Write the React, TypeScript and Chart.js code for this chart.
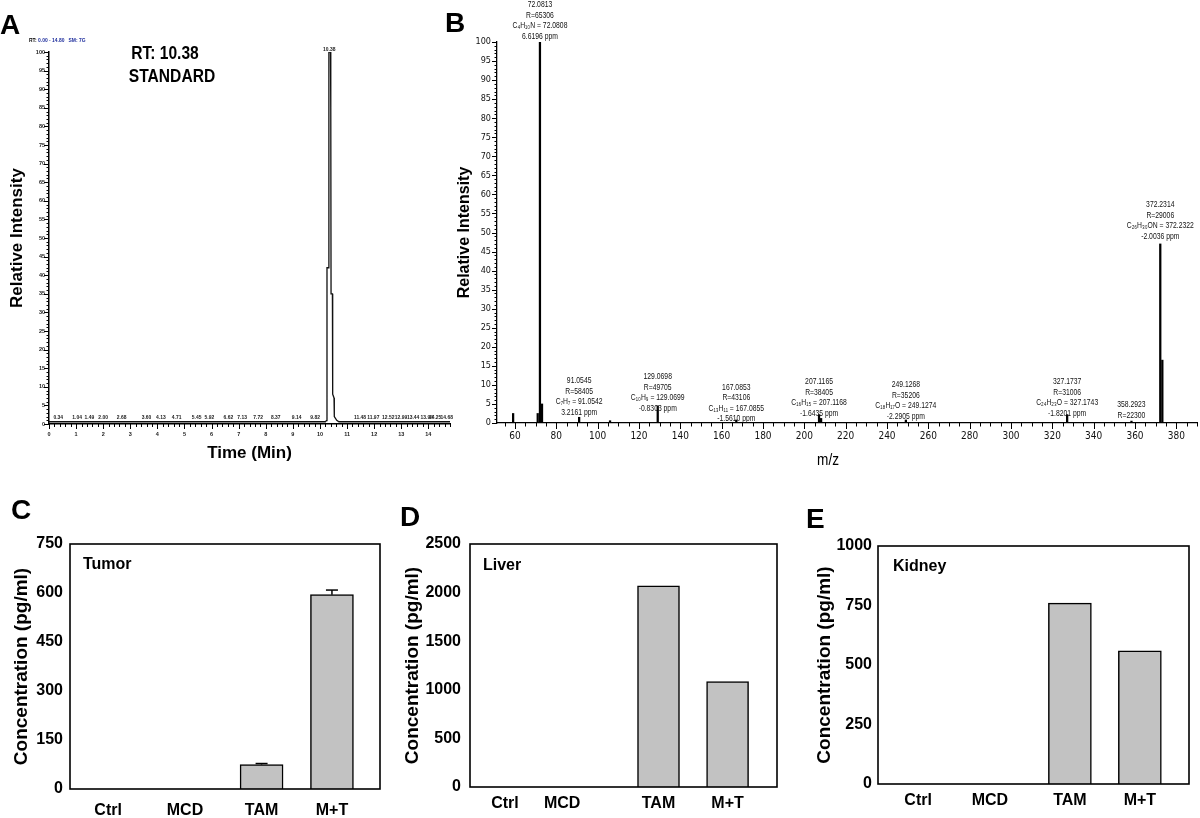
import React, { useEffect, useRef } from "react";
import { Chart, registerables } from "chart.js";

Chart.register(...registerables);

// ================= DATA =================
// Panel A – chromatogram (time in min, relative intensity %)
const chromTime = [0, 10.2, 10.24, 10.26, 10.32, 10.33, 10.39, 10.4, 10.41, 10.46, 10.47, 10.52, 10.53, 10.62, 10.7, 14.8];
const chromIntensity = [0.6, 0.6, 0.9, 42, 42, 100, 100, 85, 35, 35, 8, 7, 2, 1, 0.6, 0.6];
const noiseLabelTimes = [0.34, 1.04, 1.49, 2.0, 2.68, 3.6, 4.13, 4.71, 5.45, 5.92, 6.62, 7.13, 7.72, 8.37, 9.14, 9.82, 11.48, 11.97, 12.52, 12.99, 13.44, 13.94, 14.25, 14.68];
const peakRT = 10.38;
const chromXTicks = [0, 1, 2, 3, 4, 5, 6, 7, 8, 9, 10, 11, 12, 13, 14];
const chromYTicks = [0, 5, 10, 15, 20, 25, 30, 35, 40, 45, 50, 55, 60, 65, 70, 75, 80, 85, 90, 95, 100];

// Panel B – mass spectrum
const specMz = [59.1, 71.0, 72.08, 73.08, 91.05, 106.0, 129.07, 167.09, 207.12, 208.12, 249.13, 327.17, 358.29, 372.23, 373.23];
const specIntensity = [2.5, 2.5, 100, 5, 1.5, 0.6, 4.5, 0.8, 2.2, 1.2, 0.8, 2.2, 0.5, 47, 16.5];
const annotMz = [72.0813, 91.0545, 129.0698, 167.0853, 207.1165, 249.1268, 327.1737, 358.2923, 372.2314];
const annotLevel = [109.7, 11.0, 12.1, 9.4, 10.8, 10.0, 10.8, 4.7, 57.2];
const annotText = [
  ["72.0813", "R=65306", "C\u2084H\u2081\u2080N = 72.0808", "6.6196 ppm"],
  ["91.0545", "R=58405", "C\u2087H\u2087 = 91.0542", "3.2161 ppm"],
  ["129.0698", "R=49705", "C\u2081\u2080H\u2089 = 129.0699", "-0.8303 ppm"],
  ["167.0853", "R=43106", "C\u2081\u2083H\u2081\u2081 = 167.0855", "-1.5610 ppm"],
  ["207.1165", "R=38405", "C\u2081\u2086H\u2081\u2085 = 207.1168", "-1.6435 ppm"],
  ["249.1268", "R=35206", "C\u2081\u2088H\u2081\u2087O = 249.1274", "-2.2905 ppm"],
  ["327.1737", "R=31006", "C\u2082\u2084H\u2082\u2083O = 327.1743", "-1.8201 ppm"],
  ["358.2923", "R=22300"],
  ["372.2314", "R=29006", "C\u2082\u2086H\u2083\u2080ON = 372.2322", "-2.0036 ppm"],
];
const specXTicks = [60, 80, 100, 120, 140, 160, 180, 200, 220, 240, 260, 280, 300, 320, 340, 360, 380];
const specYTicks = [0, 5, 10, 15, 20, 25, 30, 35, 40, 45, 50, 55, 60, 65, 70, 75, 80, 85, 90, 95, 100];

// Panels C–E – concentrations (pg/ml)
const groups = ["Ctrl", "MCD", "TAM", "M+T"];
const tumorValues = [0, 0, 75, 595];
const tumorErrors = [0, 0, 3, 14];
const liverValues = [0, 0, 2070, 1085];
const kidneyValues = [0, 0, 760, 560];
const tumorTicks = [0, 150, 300, 450, 600, 750];
const liverTicks = [0, 500, 1000, 1500, 2000, 2500];
const kidneyTicks = [0, 250, 500, 750, 1000];

// ================= STYLE HELPERS =================
const SANS = "'Liberation Sans', Arial, Helvetica, sans-serif";
const NARROW = "'Liberation Sans Narrow', 'Arial Narrow', 'DejaVu Sans Condensed', 'Liberation Sans', sans-serif";

function scaledText(ctx: CanvasRenderingContext2D, s: string, x: number, y: number, font: string, sx = 1, align: CanvasTextAlign = "center", color = "#000") {
  ctx.save();
  ctx.font = font;
  ctx.fillStyle = color;
  ctx.textAlign = align;
  ctx.textBaseline = "middle";
  ctx.translate(x, y);
  ctx.scale(sx, 1);
  ctx.fillText(s, 0, 0);
  ctx.restore();
}

function seg(ctx: CanvasRenderingContext2D, x1: number, y1: number, x2: number, y2: number) {
  ctx.beginPath();
  ctx.moveTo(x1, y1);
  ctx.lineTo(x2, y2);
  ctx.stroke();
}

const plain = (v: any) => String(v);

// ================= PANEL A =================
function makeChromConfig(): any {
  const deco = {
    id: "chromDeco",
    afterDraw(chart: any) {
      const { ctx, chartArea: a, scales } = chart;
      const x = scales.x, y = scales.y;
      ctx.save();
      ctx.strokeStyle = "#000";
      ctx.lineWidth = 1;
      for (let i = 0; i <= 74; i++) {
        const px = Math.round(x.getPixelForValue(i * 0.2)) + 0.5;
        seg(ctx, px, a.bottom, px, a.bottom + (i % 5 === 0 ? 5 : 3));
      }
      for (let v = 0; v <= 100; v++) {
        const py = Math.round(y.getPixelForValue(v)) + 0.5;
        seg(ctx, a.left - (v % 5 === 0 ? 5 : 2.5), py, a.left, py);
      }
      ctx.restore();
      noiseLabelTimes.forEach((t) => {
        scaledText(ctx, t.toFixed(2), x.getPixelForValue(t), y.getPixelForValue(0.6) - 4, `bold 5.5px ${SANS}`, 0.9, "center", "#222");
      });
      scaledText(ctx, peakRT.toFixed(2), x.getPixelForValue(peakRT) - 1, y.getPixelForValue(100) - 3, `bold 5.5px ${SANS}`, 0.9, "center", "#222");
      scaledText(ctx, "RT: " + peakRT.toFixed(2), 165, 54, `bold 19px ${SANS}`, 0.82);
      scaledText(ctx, "STANDARD", 172, 77, `bold 19px ${SANS}`, 0.82);
      scaledText(ctx, "RT:", 29, 40.5, `bold 5.5px ${SANS}`, 0.9, "left", "#000");
      scaledText(ctx, "0.00 - 14.80   SM: 7G", 38, 40.5, `bold 5.5px ${SANS}`, 0.9, "left", "#1c2c9c");
    },
  };
  return {
    type: "line",
    data: {
      datasets: [
        {
          data: chromTime.map((t, i) => ({ x: t, y: chromIntensity[i] })),
          borderColor: "#111",
          borderWidth: 1.3,
          pointRadius: 0,
          tension: 0,
          fill: false,
        },
      ],
    },
    options: {
      animation: false,
      responsive: false,
      events: [],
      layout: { padding: { left: 0, right: 5, top: 52, bottom: 0 } },
      plugins: { legend: { display: false }, tooltip: { enabled: false } },
      scales: {
        x: {
          type: "linear",
          min: 0,
          max: 14.8,
          afterFit: (s: any) => { s.height = 46; },
          afterBuildTicks: (s: any) => { s.ticks = chromXTicks.map((v) => ({ value: v })); },
          grid: { display: false, drawTicks: false },
          border: { display: true, color: "#000", width: 1.5 },
          ticks: { autoSkip: false, maxRotation: 0, padding: 7, color: "#222", font: { family: SANS, size: 5.5, weight: "bold" }, callback: plain },
          title: { display: true, text: "Time (Min)", color: "#000", font: { family: SANS, size: 17, weight: "bold" }, padding: { top: 0, bottom: 6 } },
        },
        y: {
          min: 0,
          max: 100,
          afterFit: (s: any) => { s.width = 49; },
          afterBuildTicks: (s: any) => { s.ticks = chromYTicks.map((v) => ({ value: v })); },
          grid: { display: false, drawTicks: false },
          border: { display: true, color: "#000", width: 1.5 },
          ticks: { autoSkip: false, padding: 4, color: "#222", font: { family: SANS, size: 5.5, weight: "bold" }, callback: plain },
          title: { display: true, text: "Relative Intensity", color: "#000", font: { family: SANS, size: 17, weight: "bold" }, padding: { top: 7, bottom: 0 } },
        },
      },
    },
    plugins: [deco],
  };
}

// ================= PANEL B =================
function makeSpecConfig(): any {
  const deco = {
    id: "specDeco",
    afterDraw(chart: any) {
      const { ctx, chartArea: a, scales } = chart;
      const x = scales.x, y = scales.y;
      ctx.save();
      ctx.strokeStyle = "#000";
      ctx.lineWidth = 1;
      for (let v = 55; v <= 390; v += 5) {
        const px = Math.round(x.getPixelForValue(v)) + 0.5;
        seg(ctx, px, a.bottom, px, a.bottom + (v % 20 === 0 ? 6 : 3.5));
      }
      for (let v = 0; v <= 100; v++) {
        const py = Math.round(y.getPixelForValue(v)) + 0.5;
        seg(ctx, a.left - (v % 5 === 0 ? 5 : 2.5), py, a.left, py);
      }
      ctx.restore();
      annotMz.forEach((mz, i) => {
        const px = x.getPixelForValue(mz);
        const py = y.getPixelForValue(annotLevel[i]);
        annotText[i].forEach((s, j) => {
          scaledText(ctx, s, px, py + j * 10.5, `8.5px ${SANS}`, 0.8, "center", "#111");
        });
      });
      scaledText(ctx, "m/z", a.left + 331, 460, `17px ${SANS}`, 0.8, "center", "#000");
    },
  };
  return {
    type: "bar",
    data: {
      datasets: [
        {
          data: specMz.map((m, i) => ({ x: m, y: specIntensity[i] })),
          backgroundColor: "#000",
          borderWidth: 0,
          barThickness: 1.6,
        },
      ],
    },
    options: {
      animation: false,
      responsive: false,
      events: [],
      layout: { padding: { left: 0, right: 3, top: 42, bottom: 0 } },
      plugins: { legend: { display: false }, tooltip: { enabled: false } },
      scales: {
        x: {
          type: "linear",
          offset: false,
          min: 51.3,
          max: 390,
          afterFit: (s: any) => { s.height = 47; },
          afterBuildTicks: (s: any) => { s.ticks = specXTicks.map((v) => ({ value: v })); },
          grid: { display: false, drawTicks: false, offset: false },
          border: { display: true, color: "#000", width: 1.3 },
          ticks: { autoSkip: false, maxRotation: 0, padding: 7, color: "#111", font: { family: NARROW, size: 10 }, callback: plain },
        },
        y: {
          min: 0,
          max: 100,
          afterFit: (s: any) => { s.width = 42; },
          afterBuildTicks: (s: any) => { s.ticks = specYTicks.map((v) => ({ value: v })); },
          grid: { display: false, drawTicks: false },
          border: { display: true, color: "#000", width: 1.3 },
          ticks: { autoSkip: false, padding: 6, color: "#111", font: { family: NARROW, size: 9 }, callback: plain },
          title: { display: true, text: "Relative Intensity", color: "#000", font: { family: SANS, size: 16, weight: "bold" }, padding: { top: 0, bottom: 0 } },
        },
      },
    },
    plugins: [deco],
  };
}

// ================= PANELS C–E =================
type BarPanel = {
  values: number[];
  errors?: number[];
  ticks: number[];
  max: number;
  catPos: number[];
  barWidth: number;
  tissue: string;
  padRight: number;
  top: number;
  yWidth: number;
  xHeight: number;
  yPad: number;
  xPad: number;
  titlePad: number;
  labelDx: number;
  labelDy: number;
};

function makeBarConfig(p: BarPanel): any {
  const deco = {
    id: "barDeco",
    afterDatasetsDraw(chart: any) {
      const { ctx, chartArea: a, scales } = chart;
      const x = scales.x, y = scales.y;
      ctx.save();
      if (p.errors) {
        ctx.strokeStyle = "#000";
        ctx.lineWidth = 1.5;
        p.errors.forEach((e, i) => {
          if (!e) return;
          const px = x.getPixelForValue(p.catPos[i]);
          const y0 = y.getPixelForValue(p.values[i]);
          const y1 = y.getPixelForValue(p.values[i] + e);
          seg(ctx, px, y0, px, y1);
          seg(ctx, px - 6, y1, px + 6, y1);
        });
      }
      ctx.strokeStyle = "#000";
      ctx.lineWidth = 1.6;
      ctx.strokeRect(a.left, a.top, a.right - a.left, a.bottom - a.top);
      ctx.restore();
      scaledText(ctx, p.tissue, a.left + p.labelDx, a.top + p.labelDy, `bold 16px ${SANS}`, 1, "left", "#000");
    },
  };
  return {
    type: "bar",
    data: {
      datasets: [
        {
          data: p.values.map((v, i) => ({ x: p.catPos[i], y: v })),
          backgroundColor: "#c2c2c2",
          borderColor: "#000",
          borderWidth: 1.5,
          barThickness: p.barWidth,
        },
      ],
    },
    options: {
      animation: false,
      responsive: false,
      events: [],
      layout: { padding: { left: 0, right: p.padRight, top: p.top, bottom: 0 } },
      plugins: { legend: { display: false }, tooltip: { enabled: false } },
      scales: {
        x: {
          type: "linear",
          offset: false,
          min: 0,
          max: 100,
          afterFit: (s: any) => { s.height = p.xHeight; },
          afterBuildTicks: (s: any) => { s.ticks = p.catPos.map((v) => ({ value: v })); },
          grid: { display: false, drawTicks: false, offset: false },
          border: { display: false },
          ticks: {
            autoSkip: false,
            maxRotation: 0,
            padding: p.xPad,
            color: "#000",
            font: { family: SANS, size: 16, weight: "bold" },
            callback: (_v: any, i: number) => groups[i],
          },
        },
        y: {
          min: 0,
          max: p.max,
          afterFit: (s: any) => { s.width = p.yWidth; },
          afterBuildTicks: (s: any) => { s.ticks = p.ticks.map((v) => ({ value: v })); },
          grid: { display: false, drawTicks: false },
          border: { display: false },
          ticks: { autoSkip: false, padding: p.yPad, color: "#000", font: { family: SANS, size: 16, weight: "bold" }, callback: plain },
          title: {
            display: true,
            text: "Concentration (pg/ml)",
            color: "#000",
            font: { family: SANS, size: 19, weight: "bold" },
            padding: { top: p.titlePad, bottom: 0 },
          },
        },
      },
    },
    plugins: [deco],
  };
}

// ================= COMPONENTS =================
function ChartBox({ left, top, width, height, make }: { left: number; top: number; width: number; height: number; make: () => any }) {
  const ref = useRef<HTMLCanvasElement>(null);
  useEffect(() => {
    const chart = new Chart(ref.current as HTMLCanvasElement, make());
    return () => chart.destroy();
  }, []);
  return (
    <div style={{ position: "absolute", left, top, width, height }}>
      <canvas ref={ref} width={width} height={height} style={{ width, height, display: "block" }} />
    </div>
  );
}

function Letter({ ch, left, top }: { ch: string; left: number; top: number }) {
  return (
    <div style={{ position: "absolute", left, top, font: `bold 28px ${SANS}`, lineHeight: "28px", color: "#000" }}>{ch}</div>
  );
}

export default function App() {
  return (
    <div style={{ position: "fixed", left: 0, top: 0, width: 1200, height: 818, background: "#fff", overflow: "hidden" }}>
      <ChartBox left={0} top={0} width={455} height={470} make={makeChromConfig} />
      <ChartBox left={455} top={0} width={745} height={470} make={makeSpecConfig} />
      <ChartBox
        left={0}
        top={480}
        width={392}
        height={338}
        make={() =>
          makeBarConfig({
            values: tumorValues, errors: tumorErrors, ticks: tumorTicks, max: 750,
            catPos: [12.3, 37.1, 61.8, 84.5], barWidth: 43, tissue: "Tumor",
            padRight: 12, top: 64, yWidth: 70, xHeight: 29, yPad: 7, xPad: 12, titlePad: 10.6, labelDx: 13, labelDy: 21,
          })
        }
      />
      <ChartBox
        left={392}
        top={480}
        width={398}
        height={338}
        make={() =>
          makeBarConfig({
            values: liverValues, ticks: liverTicks, max: 2500,
            catPos: [11.4, 30.0, 61.4, 83.9], barWidth: 42, tissue: "Liver",
            padRight: 13, top: 64, yWidth: 78, xHeight: 31, yPad: 9, xPad: 7, titlePad: 9.6, labelDx: 13, labelDy: 22,
          })
        }
      />
      <ChartBox
        left={790}
        top={480}
        width={410}
        height={338}
        make={() =>
          makeBarConfig({
            values: kidneyValues, ticks: kidneyTicks, max: 1000,
            catPos: [12.9, 36.0, 61.7, 84.2], barWidth: 43, tissue: "Kidney",
            padRight: 11, top: 66, yWidth: 88, xHeight: 34, yPad: 6, xPad: 7, titlePad: 23.6, labelDx: 15, labelDy: 21,
          })
        }
      />
      <Letter ch="A" left={0} top={11} />
      <Letter ch="B" left={445} top={9} />
      <Letter ch="C" left={11} top={496} />
      <Letter ch="D" left={400} top={503} />
      <Letter ch="E" left={806} top={505} />
    </div>
  );
}
